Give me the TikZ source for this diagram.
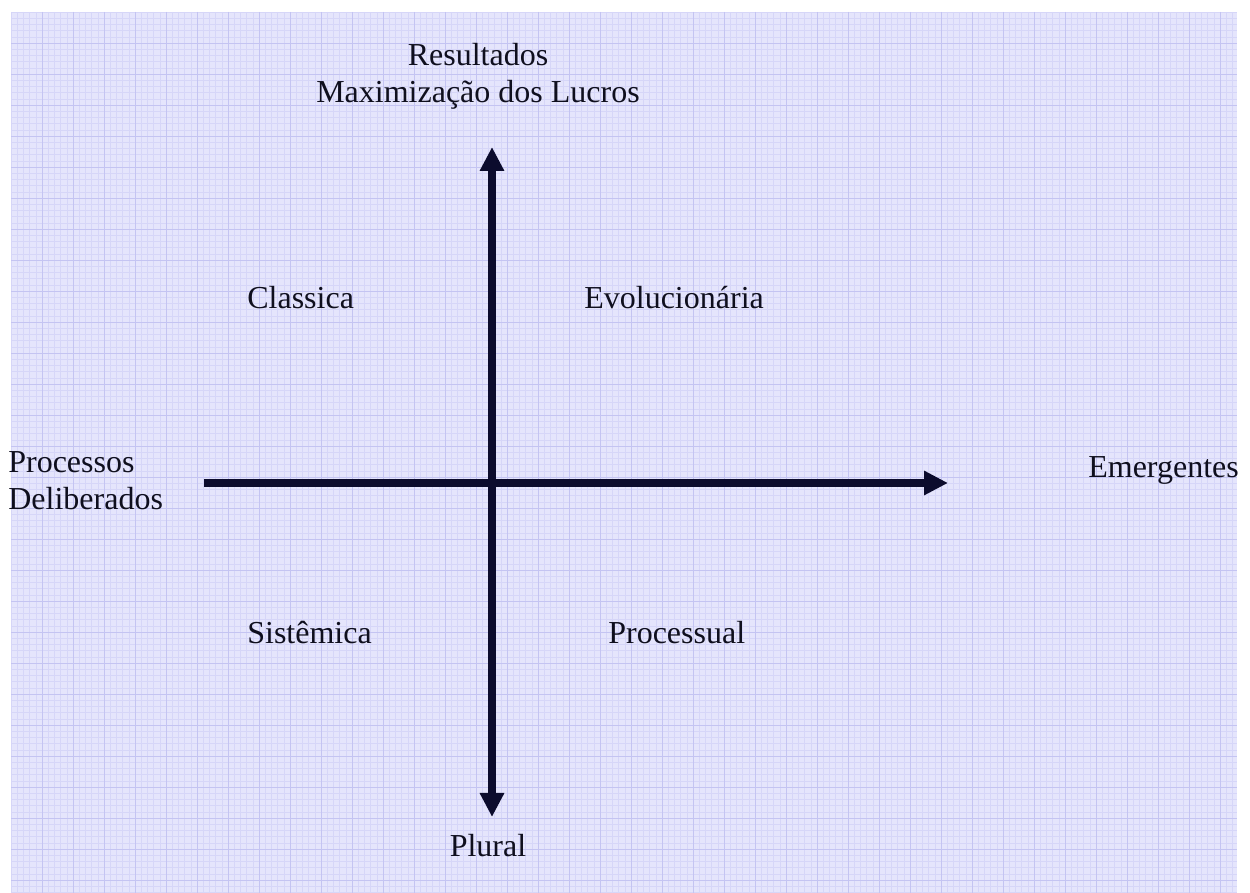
\documentclass[tikz,border=0pt]{standalone}
\usepackage{fontspec}
\setmainfont{Liberation Serif}
\usetikzlibrary{arrows.meta}

\definecolor{paperblue}{RGB}{229,229,252}
\definecolor{fineblue}{RGB}{214,214,248}
\definecolor{majorblue}{RGB}{196,196,242}
\definecolor{axisnavy}{RGB}{12,12,45}
\definecolor{labelink}{RGB}{15,15,30}

\tikzset{
  axis/.style={line width=4.8pt, draw=axisnavy,
    -{Triangle[length=14.4pt, width=13.8pt]}},
  biaxis/.style={axis, {Triangle[length=14.4pt, width=13.8pt]}-{Triangle[length=14.4pt, width=13.8pt]}},
  label/.style={font=\fontsize{19.2pt}{22.2pt}\selectfont, text=labelink, inner sep=0pt, anchor=base}
}

\begin{document}
\begin{tikzpicture}[x=0.6pt, y=-0.6pt]
            \useasboundingbox (0,0) rectangle (1250,893);

            % graph paper background
            \fill[paperblue] (11,12) rectangle (1237,893);
            \foreach \gx in {11,17.2,...,1237} \draw[fineblue, line width=0.3pt] (\gx,12) -- (\gx,893);
            \foreach \gy in {12,18.2,...,893} \draw[fineblue, line width=0.3pt] (11,\gy) -- (1237,\gy);
            \foreach \gx in {42,73,...,1237} \draw[majorblue, line width=0.5pt] (\gx,12) -- (\gx,893);
            \foreach \gy in {43,74,...,893} \draw[majorblue, line width=0.5pt] (11,\gy) -- (1237,\gy);

            % axes
            \coordinate (top) at (492,147);
            \coordinate (bottom) at (492,817);
            \coordinate (left) at (204,483);
            \coordinate (right) at (948,483);
            \draw[biaxis] (bottom) -- (top);
            \draw[axis] (left) -- (right);

            % axis ends
            \node[label] (resultados) at (478,66) {Resultados};
            \node[label] (lucros) at (478,103) {Maximização dos Lucros};
            \node[label] (plural) at (488,857) {Plural};
            \node[label, anchor=base west] (processos) at (8,473) {Processos};
            \node[label, anchor=base west] (deliberados) at (8,510) {Deliberados};
            \node[label, anchor=base west] (emergentes) at (1088,478) {Emergentes};

            % quadrants
            \node[label, anchor=base west] (classica) at (247,309) {Classica};
            \node[label, anchor=base west] (evolucionaria) at (584,309) {Evolucionária};
            \node[label, anchor=base west] (sistemica) at (247,644) {Sistêmica};
            \node[label, anchor=base west] (processual) at (608,644) {Processual};
        \end{tikzpicture}
\end{document}
